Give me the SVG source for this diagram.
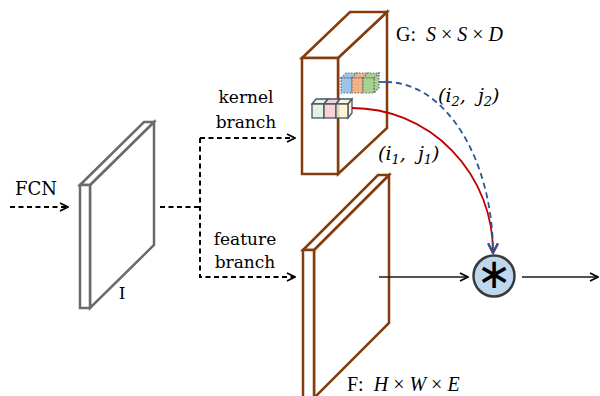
<svg xmlns="http://www.w3.org/2000/svg" width="600" height="396" viewBox="0 0 600 396">
<defs>
<style>
.cam{font-family:"DejaVu Serif","Liberation Serif",serif;font-size:17px;fill:#000}
.tnr{font-family:"Liberation Serif",serif;font-size:20px;fill:#000}
.mi{font-style:italic}
.plateI{fill:#fff;stroke:#6b6b6b;stroke-width:2.5;stroke-linejoin:miter}
.plateB{fill:#fff;stroke:#843C0C;stroke-width:2.5;stroke-linejoin:miter}
.dash{fill:none;stroke:#000;stroke-width:2;stroke-dasharray:5,3.5}
.solid{fill:none;stroke:#1a1a1a;stroke-width:1.6}
.cubeA{stroke:#44546A;stroke-width:1.3;fill-opacity:0.85}
.cubeB{stroke:#5a6a80;stroke-width:1.2;stroke-dasharray:1.5,1.5}
</style>
<marker id="chev" viewBox="0 0 10 10" refX="9" refY="5" markerWidth="10" markerHeight="10" markerUnits="userSpaceOnUse" orient="auto">
<path d="M1,1 L9,5 L1,9" fill="none" stroke="#000" stroke-width="1.8"/>
</marker>
<marker id="chevB" viewBox="0 0 10 10" refX="9" refY="5" markerWidth="12" markerHeight="12" markerUnits="userSpaceOnUse" orient="auto">
<path d="M1,1 L9,5 L1,9" fill="none" stroke="#2F5597" stroke-width="1.8"/>
</marker>
<marker id="chevR" viewBox="0 0 10 10" refX="9" refY="5" markerWidth="12" markerHeight="12" markerUnits="userSpaceOnUse" orient="auto">
<path d="M1,1 L9,5 L1,9" fill="none" stroke="#C00000" stroke-width="1.8"/>
</marker>
</defs>
<rect width="600" height="396" fill="#fff"/>

<g id="plate-I">
<polygon class="plateI" points="90,185 154,122 154,245 90,308"/>
<polygon class="plateI" points="80,185 144,122 154,122 90,185"/>
<rect class="plateI" x="80" y="185" width="10" height="123"/>
<text class="cam" x="122" y="299" text-anchor="middle">I</text>
</g>

<g id="tensor-G">
<polygon class="plateB" points="338,58 387,12 387,128 338,174"/>
<polygon class="plateB" points="302,58 350,12 387,12 338,58"/>
<rect class="plateB" x="302" y="58" width="36" height="116"/>
<text class="tnr" x="396" y="41">G:&#160; <tspan class="mi">S</tspan> × <tspan class="mi">S</tspan> × <tspan class="mi">D</tspan></text>
</g>

<g id="kernel-j2">
<polygon class="cubeB" fill="#9DC3E6" points="341,78 346,73 357,73 352,78"/>
<polygon class="cubeB" fill="#F4B183" points="352,78 357,73 368,73 363,78"/>
<polygon class="cubeB" fill="#A9D18E" points="363,78 368,73 379,73 374,78"/>
<polygon class="cubeB" fill="#A9D18E" points="374,78 379,73 379,88 374,93"/>
<rect class="cubeB" fill="#9DC3E6" x="341" y="78" width="11" height="15"/>
<rect class="cubeB" fill="#F4B183" x="352" y="78" width="11" height="15"/>
<rect class="cubeB" fill="#A9D18E" x="363" y="78" width="11" height="15"/>
</g>

<g id="kernel-j1">
<polygon class="cubeA" fill="#E2F0D9" points="312,104 316,99 328,99 324,104"/>
<polygon class="cubeA" fill="#F4CCCC" points="324,104 328,99 340,99 336,104"/>
<polygon class="cubeA" fill="#FFF2CC" points="336,104 340,99 352,99 348,104"/>
<polygon class="cubeA" fill="#FFF2CC" points="348,104 352,99 352,113 348,118"/>
<rect class="cubeA" fill="#E2F0D9" x="312" y="104" width="12" height="14"/>
<rect class="cubeA" fill="#F4CCCC" x="324" y="104" width="12" height="14"/>
<rect class="cubeA" fill="#FFF2CC" x="336" y="104" width="12" height="14"/>
</g>

<g id="tensor-F">
<polygon class="plateB" points="314,250 389,175 389,323 314,398"/>
<polygon class="plateB" points="303,250 378,175 389,175 314,250"/>
<rect class="plateB" x="303" y="250" width="11" height="160"/>
<text class="tnr" x="347" y="391">F:&#160; <tspan class="mi">H</tspan> × <tspan class="mi">W</tspan> × <tspan class="mi">E</tspan></text>
</g>

<g id="conv-op">
<circle cx="494" cy="276" r="20.5" fill="#BDD7EE" stroke="#3a3a3a" stroke-width="2.5"/>
<text x="494" y="288" text-anchor="middle" style="font-family:'DejaVu Sans',sans-serif;font-size:42px">∗</text>
</g>

<g id="connectors">
<line class="dash" x1="10" y1="207" x2="68" y2="207" marker-end="url(#chev)"/>
<line class="dash" x1="160" y1="207" x2="200" y2="207"/>
<polyline class="dash" points="200,138 200,277 295,277" marker-end="url(#chev)"/>
<line class="dash" x1="200" y1="138" x2="295" y2="138" marker-end="url(#chev)"/>
<line class="solid" x1="379" y1="277" x2="468" y2="277" marker-end="url(#chev)"/>
<line class="solid" x1="522" y1="277" x2="598" y2="277" marker-end="url(#chev)"/>
<path d="M352,108 A141,144 0 0 1 493,253" fill="none" stroke="#C00000" stroke-width="1.8" marker-end="url(#chevR)"/>
<line x1="379" y1="82" x2="386" y2="82" stroke="#2F5597" stroke-width="1.8"/>
<path d="M386,82 A107,171 0 0 1 493,253" fill="none" stroke="#2F5597" stroke-width="1.8" stroke-dasharray="6,4" marker-end="url(#chevB)"/>
</g>

<g id="labels">
<text class="cam" x="15" y="195" style="font-size:18px">FCN</text>
<text class="cam" x="246" y="103" text-anchor="middle">kernel</text>
<text class="cam" x="246" y="128" text-anchor="middle">branch</text>
<text class="cam" x="245" y="245" text-anchor="middle">feature</text>
<text class="cam" x="245" y="268" text-anchor="middle">branch</text>
<text class="cam mi" x="438" y="102" style="font-size:19px">(<tspan>i</tspan><tspan font-size="13" dy="4">2</tspan><tspan dy="-4">,&#160; </tspan><tspan>j</tspan><tspan font-size="13" dy="4">2</tspan><tspan dy="-4">)</tspan></text>
<text class="cam mi" x="378" y="160" style="font-size:19px">(<tspan>i</tspan><tspan font-size="13" dy="4">1</tspan><tspan dy="-4">,&#160; </tspan><tspan>j</tspan><tspan font-size="13" dy="4">1</tspan><tspan dy="-4">)</tspan></text>
</g>
</svg>
